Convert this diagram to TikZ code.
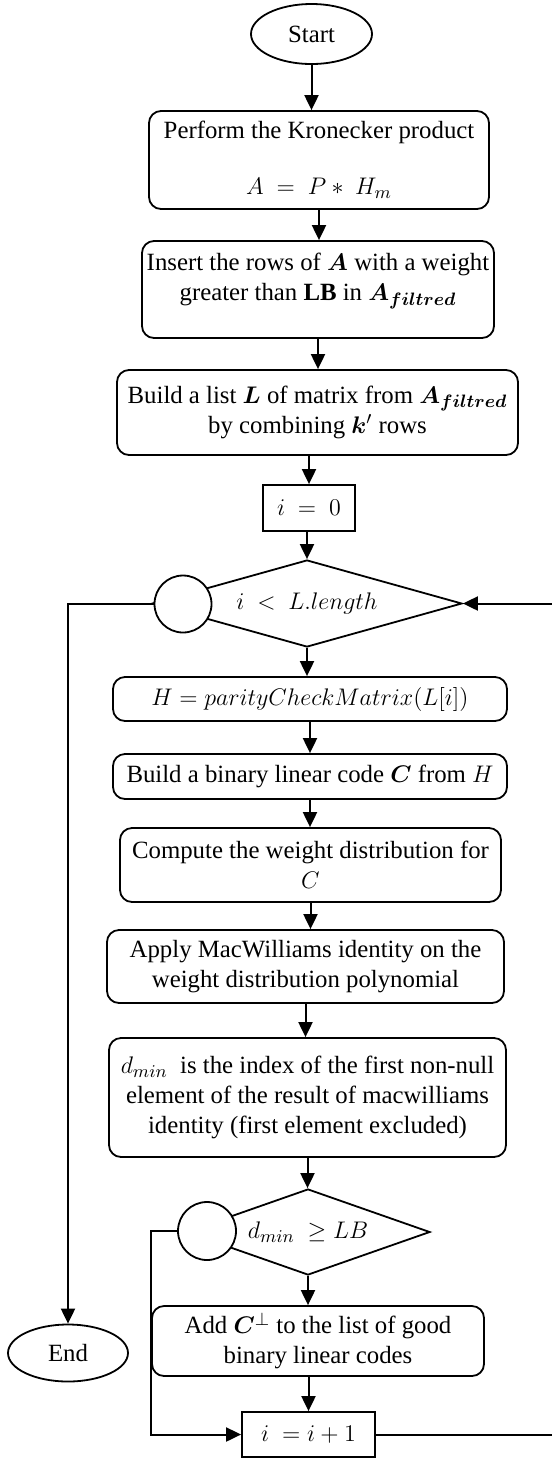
\documentclass[tikz,border=0pt]{standalone}
\usepackage{amsmath,amssymb,bm}
\usepackage{fontspec}
\setmainfont{Liberation Serif}
\usetikzlibrary{arrows.meta,shapes.geometric}

\begin{document}
\begin{tikzpicture}[x=0.5pt,y=-0.5pt,
  font=\fontsize{12.4}{15}\selectfont,
  proc/.style={draw,line width=0.9pt,rounded corners=6pt,align=center,inner sep=0pt},
  plain/.style={draw,line width=0.9pt,align=center,inner sep=0pt},
  term/.style={draw,line width=0.9pt,ellipse,inner sep=0pt},
  decide/.style={draw,line width=0.9pt,diamond,inner sep=0pt},
  joint/.style={draw,line width=0.9pt,circle,fill=white,inner sep=0pt,minimum size=28.5pt},
  arr/.style={line width=1pt,-{Triangle[length=7.5pt,width=7pt]}}]
  \useasboundingbox (0,0) rectangle (552,1458);
  %% Main column
  \node[term,minimum width=60.5pt,minimum height=30pt] (start) at (311.5,34) {Start};
  \node[proc,minimum width=170pt,minimum height=49pt] (kron) at (319,160) {Perform the Kronecker product\\[13pt] $A\ =\ P\ast\ H_m$};
  \node[proc,minimum width=176pt,minimum height=48.5pt] (insert) at (318,289.5) {};
  \node[align=center] (insertT) at (318,281) {Insert the rows of $\bm{A}$ with a weight\\ greater than $\mathbf{LB}$ in $\bm{A_{filtred}}$};
  \node[proc,minimum width=200.5pt,minimum height=42.5pt] (list) at (317.5,412.5) {Build a list $\bm{L}$ of matrix from $\bm{A_{filtred}}$\\ by combining $\bm{k}'$ rows};
  \node[plain,minimum width=46pt,minimum height=23pt] (init) at (309,508) {$i\ =\ 0$};
  \node[decide,shape aspect=3.56,minimum width=155pt,minimum height=43.5pt] (loop) at (307,603.5) {$i\ <\ L.length$};
  \node[joint] (jl) at (183,604) {};
  \node[proc,minimum width=197pt,minimum height=22pt] (parity) at (310,699) {$H = parityCheckMatrix(L[i])$};
  \node[proc,minimum width=197pt,minimum height=22.5pt] (code) at (310,776.5) {Build a binary linear code $\bm{C}$ from $H$};
  \node[proc,minimum width=190.5pt,minimum height=37pt] (dist) at (310.5,865) {Compute the weight distribution for\\ $C$};
  \node[proc,minimum width=198.5pt,minimum height=36.5pt] (macw) at (305.5,966.5) {Apply MacWilliams identity on the\\ weight distribution polynomial};
  \node[proc,minimum width=198.5pt,minimum height=59.5pt] (dmin) at (307.5,1097.5) {$d_{min}$\ \ is the index of the first non-null\\ element of the result of macwilliams\\ identity (first element excluded)};
  \node[decide,shape aspect=2.84,minimum width=122pt,minimum height=43pt] (test) at (308,1232) {$d_{min}\ \geq LB$};
  \node[joint,minimum size=29pt] (jt) at (207,1231) {};
  \node[proc,minimum width=166pt,minimum height=35pt] (add) at (318,1341) {Add $\bm{C}^{\perp}$ to the list of good\\ binary linear codes};
  \node[plain,minimum width=66.5pt,minimum height=22.5pt] (incr) at (308.5,1434.5) {$i\ = i + 1$};
  \node[term,minimum width=60pt,minimum height=28.5pt] (end) at (68,1353) {End};
  %% Arrows down the column
  \draw[arr] (start) -- (start |- kron.north);
  \draw[arr] (kron) -- (kron |- insert.north);
  \draw[arr] (insert) -- (insert |- list.north);
  \draw[arr] (init |- list.south) -- (init);
  \draw[arr] (loop |- init.south) -- (loop);
  \draw[arr] (loop) -- (loop |- parity.north);
  \draw[arr] (parity) -- (parity |- code.north);
  \draw[arr] (code) -- (code |- dist.north);
  \draw[arr] (dist) -- (dist |- macw.north);
  \draw[arr] (macw) -- (macw |- dmin.north);
  \draw[arr] (dmin) -- (dmin |- test.north);
  \draw[arr] (test) -- (test |- add.north);
  \draw[arr] (incr |- add.south) -- (incr);
  %% Loops and exit
  \coordinate (rt) at (555,1434.5);
  \coordinate (lp) at (151,1231);
  \draw[arr] (incr.east) -- (rt) |- (loop.east);
  \draw[arr] (jl.west) -| (end.north);
  \draw[arr] (jt.west) -- (lp) |- (incr.west);
\end{tikzpicture}
\end{document}
